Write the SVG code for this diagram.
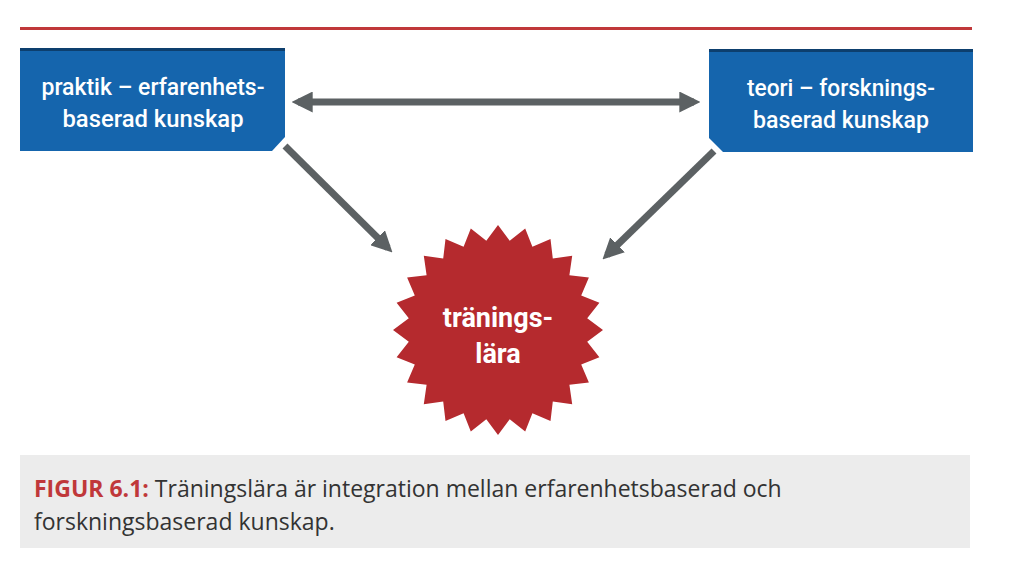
<svg xmlns="http://www.w3.org/2000/svg" width="1024" height="580" viewBox="0 0 1024 580">
<style>
.box{fill:#1565ad}
.top{fill:#0d3f6e}
.bt{font-family:Roboto,"Liberation Sans",sans-serif;font-size:24px;font-weight:500;fill:#fff;text-anchor:middle}
.st{font-family:Roboto,"Liberation Sans",sans-serif;font-size:27px;font-weight:bold;fill:#fff;text-anchor:middle}
.con{stroke:#5c6163;stroke-width:7;fill:none}
.cap{font-family:"Open Sans","Liberation Sans",sans-serif;font-size:23px;fill:#333}
</style>
<defs>
<marker id="ah" viewBox="0 0 10 10" refX="7" refY="5" markerWidth="3" markerHeight="3" orient="auto-start-reverse"><path d="M0,0 L10,5 L0,10 Z" fill="#5c6163"/></marker>
</defs>
<rect width="1024" height="580" fill="#fff"/>
<rect x="20" y="27" width="952" height="3" fill="#c0383a"/>
<g id="praktik">
<path class="box" d="M20,48 H285 V137 L272,151 H20 Z"/>
<rect class="top" x="20" y="48" width="265" height="3"/>
<text class="bt" x="153" y="95" textLength="223" lengthAdjust="spacingAndGlyphs">praktik – erfarenhets-</text>
<text class="bt" x="153" y="127" textLength="181" lengthAdjust="spacingAndGlyphs">baserad kunskap</text>
</g>
<g id="teori">
<path class="box" d="M709,49 H973 V152 H723 L709,138 Z"/>
<rect class="top" x="709" y="49" width="264" height="3"/>
<text class="bt" x="841" y="96" textLength="188" lengthAdjust="spacingAndGlyphs">teori – forsknings-</text>
<text class="bt" x="841" y="128" textLength="176" lengthAdjust="spacingAndGlyphs">baserad kunskap</text>
</g>
<g id="traningslara">
<polygon fill="#b52a2e" transform="translate(498,330)" points="105,0 89.2,11.7 101.4,27.2 83.2,34.4 90.9,52.5 71.4,54.8 74.2,74.2 54.8,71.4 52.5,90.9 34.4,83.2 27.2,101.4 11.7,89.2 0,105 -11.7,89.2 -27.2,101.4 -34.4,83.2 -52.5,90.9 -54.8,71.4 -74.2,74.2 -71.4,54.8 -90.9,52.5 -83.2,34.4 -101.4,27.2 -89.2,11.7 -105,0 -89.2,-11.7 -101.4,-27.2 -83.2,-34.4 -90.9,-52.5 -71.4,-54.8 -74.2,-74.2 -54.8,-71.4 -52.5,-90.9 -34.4,-83.2 -27.2,-101.4 -11.7,-89.2 0,-105 11.7,-89.2 27.2,-101.4 34.4,-83.2 52.5,-90.9 54.8,-71.4 74.2,-74.2 71.4,-54.8 90.9,-52.5 83.2,-34.4 101.4,-27.2 89.2,-11.7"/>
<text class="st" x="498" y="327">tränings-</text>
<text class="st" x="498" y="363">lära</text>
</g>
<g id="connectors">
<line class="con" x1="298" y1="102" x2="694" y2="102" marker-start="url(#ah)" marker-end="url(#ah)"/>
<line class="con" x1="285" y1="146" x2="388" y2="248" marker-end="url(#ah)"/>
<line class="con" x1="714" y1="151" x2="607" y2="255" marker-end="url(#ah)"/>
</g>
<rect x="20" y="455" width="950" height="93" fill="#ececec"/>
<text class="cap" x="34" y="497"><tspan font-weight="bold" fill="#c0383a">FIGUR 6.1:</tspan> Träningslära är integration mellan erfarenhetsbaserad och</text>
<text class="cap" x="34" y="530">forskningsbaserad kunskap.</text>
</svg>
